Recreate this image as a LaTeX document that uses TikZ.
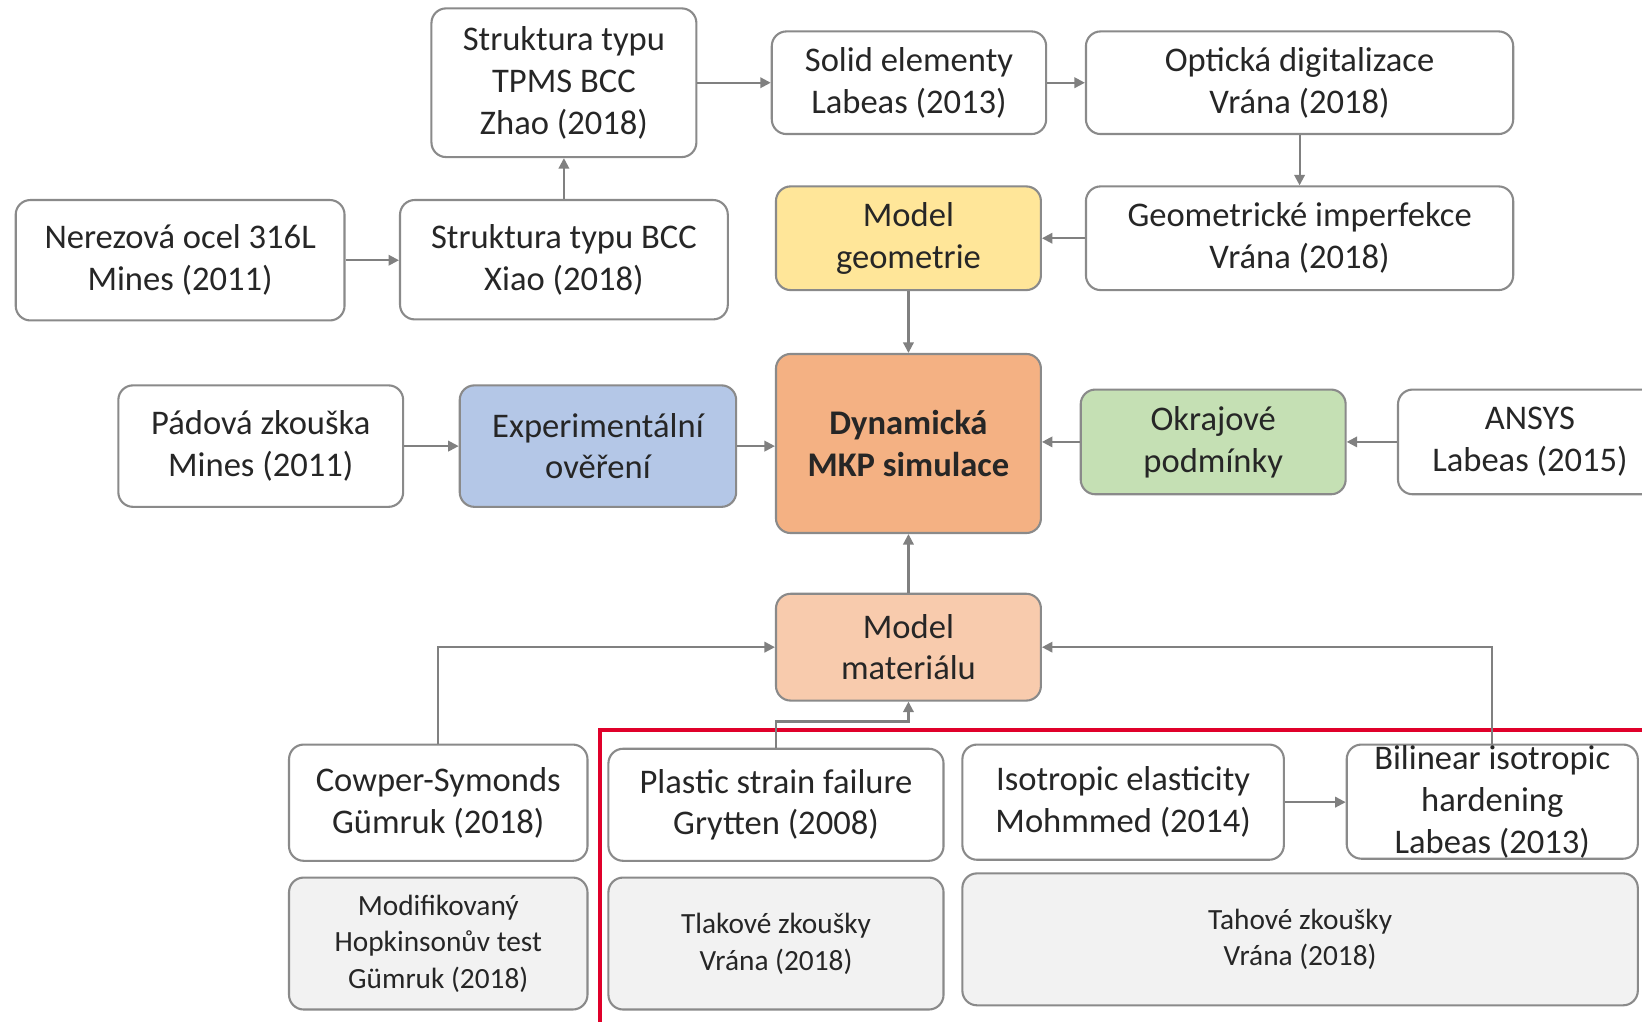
\documentclass[tikz,border=0pt]{standalone}
\usepackage{fontspec}
\setmainfont{Carlito}
\usetikzlibrary{arrows.meta}
\definecolor{bordergray}{HTML}{8A8A8A}
\definecolor{arrgray}{HTML}{808080}
\definecolor{geoyellow}{HTML}{FFE699}
\definecolor{expblue}{HTML}{B4C7E7}
\definecolor{dynorange}{HTML}{F4B183}
\definecolor{okrgreen}{HTML}{C5E0B4}
\definecolor{matorange}{HTML}{F8CBAD}
\definecolor{testgray}{HTML}{F2F2F2}
\definecolor{redframe}{HTML}{E0002A}
\tikzset{
  box/.style={draw=bordergray, line width=1pt, rounded corners=7pt, fill=white,
    inner sep=0pt, align=center, font=\fontsize{16.5}{20}\selectfont, text=black!85},
  testbox/.style={box, fill=testgray, font=\fontsize{14}{17.5}\selectfont},
  arr/.style={draw=arrgray, line width=1pt, -{Triangle[length=5pt,width=5pt]}},
}
\newcommand\bx[7]{\node[#6, minimum width={(#4-#2)*0.5pt}, minimum height={(#5-#3)*0.5pt}] (#1) at ({(#2+#4)/2},{(#3+#5)/2}) {#7};}
\begin{document}
\begin{tikzpicture}[x=0.5pt,y=-0.5pt]
\useasboundingbox (0,0) rectangle (1568,975);
\clip (0,0) rectangle (1568,975);
\fill[white] (0,0) rectangle (1568,975);
% row 1
\bx{tpms}{412}{8}{665}{150}{box}{Struktura typu\\TPMS BCC\\Zhao (2018)}
\bx{solid}{737}{30}{999}{128}{box}{Solid elementy\\Labeas (2013)}
\bx{opt}{1037}{30}{1445}{128}{box}{Optická digitalizace\\Vrána (2018)}
% row 2
\bx{ner}{15}{191}{329}{306}{box}{Nerezová ocel 316L\\Mines (2011)}
\bx{bcc}{382}{191}{695}{305}{box}{Struktura typu BCC\\Xiao (2018)}
\bx{geo}{741}{178}{994}{277}{box, fill=geoyellow}{Model\\geometrie}
\bx{imp}{1037}{178}{1445}{277}{box}{Geometrické imperfekce\\Vrána (2018)}
% row 3
\bx{pad}{113}{368}{385}{484}{box}{Pádová zkouška\\Mines (2011)}
\bx{exp}{439}{368}{703}{484}{box, fill=expblue}{Experimentální\\ověření}
\bx{dyn}{741}{338}{994}{509}{box, fill=dynorange}{\textbf{Dynamická}\\\textbf{MKP simulace}}
\bx{okr}{1032}{372}{1285}{472}{box, fill=okrgreen}{Okrajové\\podmínky}
\node[box, minimum width={(1590-1335)*0.5pt}, minimum height={(472-372)*0.5pt}] (ansys) at ({(1335+1590)/2},422) {};
\node[align=center, font=\fontsize{16.5}{20}\selectfont, text=black!85] (ansyst) at (1461,422) {ANSYS\\Labeas (2015)};
% row 4
\bx{mat}{741}{567}{994}{669}{box, fill=matorange}{Model\\materiálu}
% row 5
\bx{cow}{276}{711}{561}{822}{box}{Cowper-Symonds\\Gümruk (2018)}
\bx{pla}{581}{715}{901}{822}{box}{Plastic strain failure\\Grytten (2008)}
\bx{iso}{919}{711}{1226}{821}{box}{Isotropic elasticity\\Mohmmed (2014)}
\bx{bil}{1286}{711}{1564}{820}{box}{Bilinear isotropic\\hardening\\Labeas (2013)}
% row 6
\bx{hop}{276}{838}{561}{964}{testbox}{Modifikovaný\\Hopkinsonův test\\Gümruk (2018)}
\bx{tla}{581}{838}{901}{964}{testbox}{Tlakové zkoušky\\Vrána (2018)}
\bx{tah}{919}{834}{1564}{960}{testbox}{Tahové zkoušky\\Vrána (2018)}
% red frame
\draw[redframe, line width=1.6pt] (573,697) rectangle (1600,1000);
% connectors
\draw[arr] (ner.east) -- (ner.east -| bcc.west);
\draw[arr] (bcc.north) -- (tpms.south);
\draw[arr] (tpms.east) -- (tpms.east -| solid.west);
\draw[arr] (solid.east) -- (solid.east -| opt.west);
\draw[arr] (opt.south) -- (imp.north);
\draw[arr] (imp.west) -- (imp.west -| geo.east);
\draw[arr] (geo.south) -- (dyn.north);
\draw[arr] (pad.east) -- (pad.east -| exp.west);
\draw[arr] (exp.east) -- (exp.east -| dyn.west);
\draw[arr] (okr.west) -- (okr.west -| dyn.east);
\draw[arr] (ansys.west) -- (ansys.west -| okr.east);
\draw[arr] (mat.north) -- (dyn.south);
\draw[arr] (cow.north) |- (mat.west);
\draw[arr] (bil.north) |- (mat.east);
\draw[arr] (pla.north) -- ++(0,-25) -| (mat.south);
\draw[arr] (iso.east) -- (iso.east -| bil.west);
\end{tikzpicture}
\end{document}
